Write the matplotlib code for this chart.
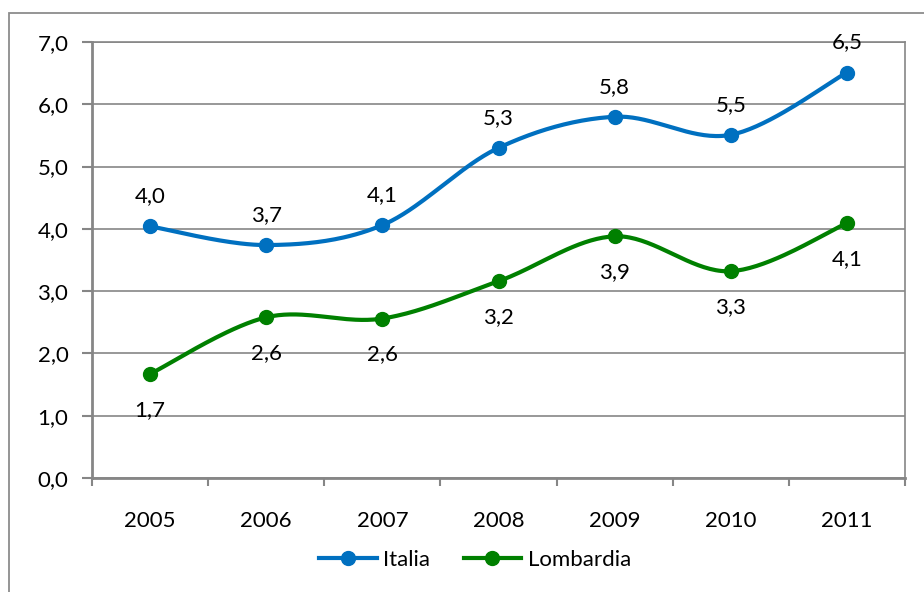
import numpy as np
import matplotlib.pyplot as plt
from matplotlib.patches import Rectangle

# data
years = ['2005', '2006', '2007', '2008', '2009', '2010', '2011']
italia = [4.04, 3.74, 4.06, 5.30, 5.80, 5.51, 6.51]
lombardia = [1.67, 2.58, 2.56, 3.16, 3.88, 3.32, 4.09]
y_ticks = [0, 1, 2, 3, 4, 5, 6, 7]

plt.rcParams['font.family'] = ['Lato', 'DejaVu Sans']


def smooth(xs, ys, n=40):
    # Excel-like smoothed line: cubic bezier through points (catmull-rom style)
    pts = np.column_stack([xs, ys]).astype(float)
    out = []
    for i in range(len(pts) - 1):
        p0 = pts[i - 1] if i > 0 else pts[i]
        p1 = pts[i]
        p2 = pts[i + 1]
        p3 = pts[i + 2] if i + 2 < len(pts) else pts[i + 1]
        c1 = p1 + (p2 - p0) / 6
        c2 = p2 - (p3 - p1) / 6
        t = np.linspace(0, 1, n)[:, None]
        seg = ((1 - t) ** 3) * p1 + 3 * ((1 - t) ** 2) * t * c1 + 3 * (1 - t) * t ** 2 * c2 + t ** 3 * p2
        out.append(seg if i == 0 else seg[1:])
    seg = np.vstack(out)
    return seg[:, 0], seg[:, 1]


fig = plt.figure(figsize=(9.24, 5.92), dpi=100)
ax = fig.add_axes([92 / 924, 1 - 478 / 592, 813 / 924, 436 / 592])

# chart border
fig.patches.append(Rectangle((9 / 924, -0.05), 1.0, 1 - 13 / 592 + 0.05,
                             transform=fig.transFigure, fill=False,
                             edgecolor='#8c8c8c', lw=1.3))

fs = 16
x = np.arange(len(years))
series = [(italia, '#0070C0', 'Italia', 30), (lombardia, '#008000', 'Lombardia', -36)]
for vals, col, name, off in series:
    sx, sy = smooth(x, vals)
    ax.plot(sx, sy, color=col, lw=3, solid_capstyle='round', zorder=3)
    ax.plot(x, vals, 'o', color=col, ms=10, zorder=4)
    ax.plot([], [], '-o', color=col, lw=3, ms=10, label=name)
    for xi, v in zip(x, vals):
        ax.annotate(f'{v:.1f}'.replace('.', ','), (xi, v), xytext=(0, off),
                    textcoords='offset pixels', ha='center', va='center', fontsize=fs)

ax.set_xlim(-0.5, 6.5)
ax.set_ylim(0, 7)
ax.set_yticks(y_ticks)
ax.set_yticklabels([f'{v:.1f}'.replace('.', ',') for v in y_ticks], fontsize=fs)
ax.set_xticks(x)
ax.set_xticklabels(years, fontsize=fs)
ax.set_xticks(np.arange(-0.5, 7, 1), minor=True)
ax.tick_params(axis='x', which='major', length=0, pad=24)
ax.tick_params(axis='x', which='minor', length=6, color='#868686', width=1.5)
ax.tick_params(axis='y', length=7, color='#868686', width=1.5, pad=10)
ax.grid(axis='y', color='#868686', lw=1.2)
ax.set_axisbelow(True)
for s in ax.spines.values():
    s.set_color('#868686')
    s.set_linewidth(1.2)
ax.spines['left'].set_linewidth(2)
ax.spines['bottom'].set_linewidth(2)

fig.legend(loc='center', bbox_to_anchor=(475 / 924, 1 - 560 / 592), ncol=2,
           frameon=False, fontsize=fs, handlelength=2.6, columnspacing=1.5,
           handletextpad=0.3)

fig.savefig('out.png', dpi=100)
